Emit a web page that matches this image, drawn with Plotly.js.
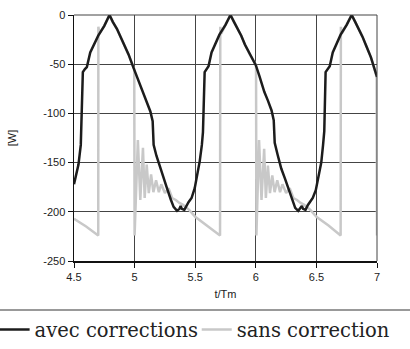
<!DOCTYPE html>
<html>
<head>
<meta charset="utf-8">
<script src="https://cdn.plot.ly/plotly-3.0.1.min.js"></script>
<style>html,body{margin:0;padding:0;background:#fff;}#chart{width:410px;height:349px;}</style>
</head>
<body>
<div id="chart"></div>
<script>
// avec corrections (black)
const tAvec = [4.50,4.52,4.537,4.556,4.565,4.573,4.59,4.606,4.634,4.66,4.70,4.75,4.793,4.82,4.854,4.88,4.909,4.95,4.992,5.03,5.074,5.10,5.13,5.149,5.157,5.18,5.212,5.24,5.267,5.30,5.322,5.35,5.37,5.38,5.39,5.41,5.43,5.446,5.47,5.496,5.52,5.537,5.555,5.564,5.578,5.595,5.61,5.635,5.66,5.70,5.75,5.791,5.82,5.853,5.88,5.91,5.95,6.00,6.03,6.07,6.10,6.13,6.148,6.156,6.18,6.21,6.24,6.27,6.30,6.325,6.35,6.37,6.38,6.39,6.41,6.43,6.45,6.47,6.495,6.52,6.54,6.555,6.565,6.576,6.59,6.61,6.635,6.66,6.70,6.75,6.791,6.82,6.855,6.88,6.91,6.95,7.00];
const pAvec = [-172,-160,-152,-132,-100,-58,-55,-53,-38,-31,-21,-11,0,-7,-14,-21,-29,-40,-54,-66,-81,-89,-98,-108,-132,-143,-156,-166,-176,-188,-195,-199,-197,-194,-197,-198,-193,-190,-186,-176,-160,-149,-132,-119,-58,-55,-52,-38,-31,-20,-10,0,-7,-14,-21,-30,-40,-51,-62,-78,-87,-97,-107,-130,-142,-156,-166,-176,-188,-196,-199,-196,-194,-197,-198,-193,-190,-186,-178,-162,-150,-132,-118,-58,-55,-52,-38,-31,-20,-10,0,-7,-15,-22,-31,-43,-63];
// sans correction (grey)
const tSans = [4.50,4.60,4.70,4.701,4.71,4.75,4.793,4.82,4.854,4.88,4.909,4.95,4.997,5.00,5.027,5.047,5.069,5.083,5.10,5.117,5.136,5.155,5.177,5.20,5.22,5.25,5.28,5.31,5.34,5.37,5.40,5.45,5.50,5.60,5.705,5.707,5.715,5.75,5.791,5.82,5.853,5.88,5.91,5.95,6.002,6.005,6.027,6.047,6.069,6.083,6.10,6.117,6.136,6.155,6.177,6.20,6.22,6.25,6.28,6.31,6.34,6.37,6.40,6.45,6.50,6.60,6.700,6.702,6.71,6.75,6.791,6.82,6.855,6.88,6.91,6.95,6.997,7.00];
const pSans = [-207,-215,-224,-12,-19,-11,0,-7,-14,-21,-29,-40,-55,-224,-127,-188,-135,-186,-152,-181,-162,-180,-168,-180,-172,-181,-176,-186,-188,-191,-193,-198,-205,-214,-224,-12,-19,-10,0,-7,-14,-21,-30,-40,-51,-224,-127,-188,-136,-186,-153,-181,-163,-180,-168,-180,-172,-181,-176,-186,-188,-191,-193,-198,-205,-214,-224,-12,-19,-10,0,-7,-15,-22,-31,-43,-63,-224];

const xTicks = [4.5,5,5.5,6,6.5,7];
const yTicks = [0,-50,-100,-150,-200,-250];

const traces = [
  {x: tSans, y: pSans, type: 'scatter', mode: 'lines', name: 'sans correction',
   line: {color: '#c8c8c8', width: 2.5}, legend: 'legend2'},
  {x: tAvec, y: pAvec, type: 'scatter', mode: 'lines', name: 'avec corrections',
   line: {color: '#1c1c1c', width: 2.5}, legend: 'legend'}
];

const layout = {
  width: 410, height: 349,
  margin: {l: 74, r: 33, t: 15, b: 88, autoexpand: false},
  paper_bgcolor: '#fff', plot_bgcolor: '#fff',
  font: {family: 'Liberation Sans', size: 11, color: '#222'},
  showlegend: true,
  legend: {orientation: 'h', x: -0.262, xanchor: 'left', y: -0.28, yanchor: 'middle',
           font: {family: 'DejaVu Serif', size: 19.5, color: '#222'}, bgcolor: 'rgba(0,0,0,0)'},
  legend2: {orientation: 'h', x: 0.405, xanchor: 'left', y: -0.28, yanchor: 'middle',
           font: {family: 'DejaVu Serif', size: 19.5, color: '#222'}, bgcolor: 'rgba(0,0,0,0)'},
  xaxis: {range: [4.5, 7], tickvals: xTicks, ticktext: xTicks.map(String), automargin: true,
          showgrid: true, gridcolor: '#444', gridwidth: 1, zeroline: false,
          showline: true, linecolor: '#111', linewidth: 1.5, mirror: false,
          ticks: 'outside', ticklen: 5, tickcolor: '#111',
          title: {text: 't/Tm', font: {size: 11}, standoff: 8}},
  yaxis: {range: [-250, 0], tickvals: yTicks, ticktext: yTicks.map(String), automargin: true,
          showgrid: true, gridcolor: '#444', gridwidth: 1, zeroline: false,
          showline: true, linecolor: '#111', linewidth: 1.5, mirror: false,
          ticks: 'outside', ticklen: 5, tickcolor: '#111',
          title: {text: '[W]', font: {size: 11}, standoff: 24}},
  shapes: [
    {type: 'line', xref: 'paper', yref: 'paper', x0: -0.25, x1: 1.11, y0: -0.199, y1: -0.199,
     line: {color: '#777', width: 1.5}},
    {type: 'line', xref: 'paper', yref: 'paper', x0: 0, x1: 1, y0: 1, y1: 1,
     line: {color: '#444', width: 1}},
    {type: 'line', xref: 'paper', yref: 'paper', x0: 1, x1: 1, y0: 0, y1: 1,
     line: {color: '#444', width: 1}}
  ]
};

Plotly.newPlot('chart', traces, layout, {displayModeBar: false, staticPlot: true});
</script>
</body>
</html>
